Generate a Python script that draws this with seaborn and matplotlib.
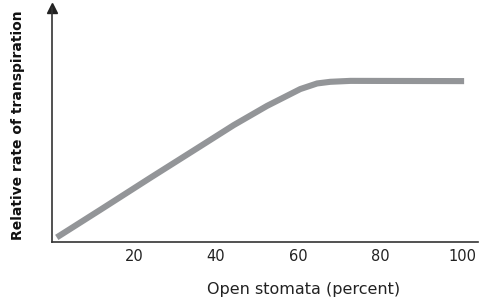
import matplotlib
matplotlib.use("Agg")
import matplotlib.pyplot as plt
import seaborn as sns
import pandas as pd

open_stomata = [1.2, 11.9, 24.1, 36.2, 44.3, 52.4, 60.5, 64.6, 67.8, 72.7, 100.4]
transpiration = [0.020, 0.139, 0.276, 0.410, 0.500, 0.582, 0.654, 0.678, 0.685, 0.689, 0.688]
xticks = [20, 40, 60, 80, 100]

df = pd.DataFrame({"x": open_stomata, "y": transpiration})

sns.set_style("white")
plt.rcParams['font.family'] = ['DejaVu Sans']

fig = plt.figure(figsize=(4.8, 3.0), dpi=100)
ax = fig.add_axes([0.108, 0.193, 0.888, 0.78])
sns.lineplot(data=df, x="x", y="y", ax=ax, color="#939598", linewidth=4.4,
             solid_capstyle="butt", solid_joinstyle="round", sort=False)

ax.set_xlim(0, 103.8)
ax.set_ylim(0, 1)
ax.set_xticks(xticks)
ax.set_xticklabels([str(t) for t in xticks], fontsize=10.5, color="#222222")
ax.set_yticks([])
ax.tick_params(axis="x", length=0, pad=5)
for s in ["top", "right"]:
    ax.spines[s].set_visible(False)
for s in ["left", "bottom"]:
    ax.spines[s].set_color("#333333")
    ax.spines[s].set_linewidth(1.2)
ax.plot([0], [1], marker="^", color="#222222", markersize=7, clip_on=False,
        transform=ax.transAxes)

ax.set_xlabel("Open stomata (percent)", fontsize=11.5, color="#222222")
ax.xaxis.set_label_coords(0.59, -0.17)
ax.set_ylabel("Relative rate of transpiration", fontsize=10, color="#111111",
              fontweight="bold")
ax.yaxis.set_label_coords(-0.062, 0.5)

fig.savefig("out.png", dpi=100)
